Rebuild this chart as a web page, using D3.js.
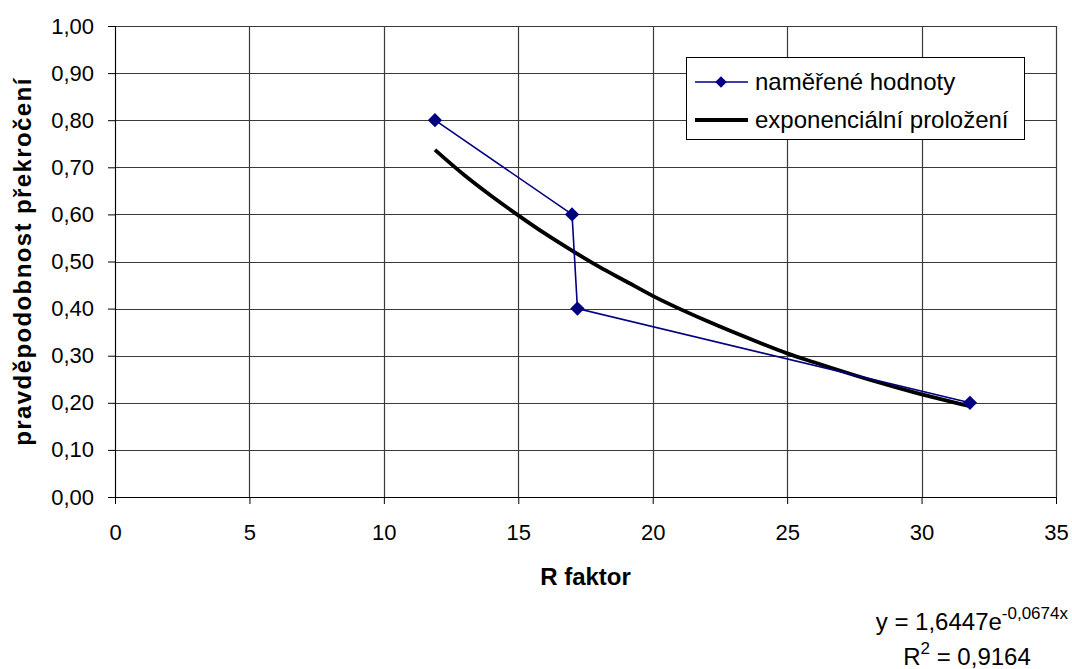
<!DOCTYPE html>
<html>
<head>
<meta charset="utf-8">
<script src="https://cdn.jsdelivr.net/npm/d3@7"></script>
<style>
  body { margin: 0; background: #fff; }
  text { font-family: Arial, "Liberation Sans", sans-serif; }
</style>
</head>
<body>
<div id="chart"></div>
<script>
// measured values
const rFactor = [11.9, 17.0, 17.2, 31.8];
const probability = [0.80, 0.60, 0.40, 0.20];

// exponential trendline
const fitX = [11.9, 13, 14, 15, 16, 17, 18, 19, 20, 22, 24, 25, 26, 28, 30, 31.8];
const fitY = [0.737, 0.683, 0.639, 0.598, 0.559, 0.523, 0.489, 0.458, 0.427, 0.374, 0.327, 0.305, 0.286, 0.250, 0.218, 0.193];

const xTicks = [0, 5, 10, 15, 20, 25, 30, 35];
const yTicks = [0, 0.1, 0.2, 0.3, 0.4, 0.5, 0.6, 0.7, 0.8, 0.9, 1.0];

const legendLabels = ["naměřené hodnoty", "exponenciální proložení"];

const width = 1072, height = 669;
const margin = {top: 26, right: 16, bottom: 172, left: 115};
const plotW = width - margin.left - margin.right;
const plotH = height - margin.top - margin.bottom;

const svg = d3.select('#chart')
    .append('svg')
    .attr('width', width)
    .attr('height', height);

const g = svg.append('g')
    .attr('transform', `translate(${margin.left},${margin.top})`);

const xScale = d3.scaleLinear().domain([0, 35]).range([0, plotW]);
const yScale = d3.scaleLinear().domain([0, 1]).range([plotH, 0]);

const comma = d => d3.format('.2f')(d).replace('.', ',');

// gridlines
g.append('g')
    .selectAll('line')
    .data(yTicks)
    .enter()
    .append('line')
    .attr('x1', 0)
    .attr('x2', plotW)
    .attr('y1', d => Math.round(yScale(d)) + 0.5)
    .attr('y2', d => Math.round(yScale(d)) + 0.5)
    .attr('stroke', '#3a3a3a')
    .attr('stroke-width', 1.2);

g.append('g')
    .selectAll('line')
    .data(xTicks)
    .enter()
    .append('line')
    .attr('x1', d => Math.round(xScale(d)) + 0.5)
    .attr('x2', d => Math.round(xScale(d)) + 0.5)
    .attr('y1', 0)
    .attr('y2', plotH)
    .attr('stroke', '#3a3a3a')
    .attr('stroke-width', 1.2);

// X axis
const xAxis = g.append('g')
    .attr('transform', `translate(0,${plotH})`)
    .call(d3.axisBottom(xScale).tickValues(xTicks).tickSize(7).tickPadding(20));
xAxis.selectAll('text')
    .style('font-size', '22px')
    .style('fill', '#000');
xAxis.selectAll('line, path').attr('stroke', '#000');

// Y axis
const yAxis = g.append('g')
    .call(d3.axisLeft(yScale).tickValues(yTicks).tickFormat(comma).tickSize(7).tickPadding(14));
yAxis.selectAll('text')
    .style('font-size', '22px')
    .style('fill', '#000');
yAxis.selectAll('line, path').attr('stroke', '#000');

// axis titles
g.append('text')
    .attr('x', plotW / 2)
    .attr('y', plotH + 88)
    .style('text-anchor', 'middle')
    .style('font-size', '24px')
    .style('font-weight', 'bold')
    .text('R faktor');

g.append('text')
    .attr('transform', 'rotate(-90)')
    .attr('x', -plotH / 2)
    .attr('y', -margin.left + 31)
    .style('text-anchor', 'middle')
    .style('font-size', '24px')
    .style('font-weight', 'bold')
    .style('letter-spacing', '1.4px')
    .text('pravděpodobnost překročení');

// trendline
const fitData = fitX.map((x, i) => ({x: x, y: fitY[i]}));
g.append('path')
    .datum(fitData)
    .attr('fill', 'none')
    .attr('stroke', '#000')
    .attr('stroke-width', 3.8)
    .attr('d', d3.line()
        .x(d => xScale(d.x))
        .y(d => yScale(d.y))
        .curve(d3.curveMonotoneX));

// measured line
const measured = rFactor.map((x, i) => ({x: x, y: probability[i]}));
g.append('path')
    .datum(measured)
    .attr('fill', 'none')
    .attr('stroke', '#000080')
    .attr('stroke-width', 1.6)
    .attr('d', d3.line()
        .x(d => xScale(d.x))
        .y(d => yScale(d.y)));

const diamond = d3.symbol().type(d3.symbolDiamond2).size(130);
g.append('g')
    .selectAll('path')
    .data(measured)
    .enter()
    .append('path')
    .attr('d', diamond)
    .attr('transform', d => `translate(${xScale(d.x)},${yScale(d.y)})`)
    .attr('fill', '#000080');

// Legend
const legend = svg.append('g')
    .attr('transform', 'translate(686,57)');

legend.append('rect')
    .attr('x', 0.5)
    .attr('y', 0.5)
    .attr('width', 338)
    .attr('height', 82)
    .attr('fill', '#fff')
    .attr('stroke', '#000')
    .attr('stroke-width', 1);

legend.append('line')
    .attr('x1', 9).attr('x2', 62)
    .attr('y1', 25).attr('y2', 25)
    .attr('stroke', '#000080')
    .attr('stroke-width', 1.6);

legend.append('path')
    .attr('d', d3.symbol().type(d3.symbolDiamond2).size(85))
    .attr('transform', 'translate(35,25)')
    .attr('fill', '#000080');

legend.append('line')
    .attr('x1', 9).attr('x2', 62)
    .attr('y1', 63).attr('y2', 63)
    .attr('stroke', '#000')
    .attr('stroke-width', 3.8);

legend.selectAll('.lbl')
    .data(legendLabels)
    .enter()
    .append('text')
    .attr('class', 'lbl')
    .attr('x', 69)
    .attr('y', (d, i) => 25 + i * 38)
    .attr('dy', '0.35em')
    .style('font-size', '24px')
    .text(d => d);

// equation
const eq = svg.append('text')
    .attr('x', 1068)
    .attr('y', 630)
    .style('text-anchor', 'end')
    .style('font-size', '24px');
eq.append('tspan').text('y = 1,6447e');
eq.append('tspan').attr('dy', -11).style('font-size', '17px').text('-0,0674x');

const r2 = svg.append('text')
    .attr('x', 967)
    .attr('y', 665)
    .style('text-anchor', 'middle')
    .style('font-size', '24px');
r2.append('tspan').text('R');
r2.append('tspan').attr('dy', -11).style('font-size', '17px').text('2');
r2.append('tspan').attr('dy', 11).text(' = 0,9164');
</script>
</body>
</html>
